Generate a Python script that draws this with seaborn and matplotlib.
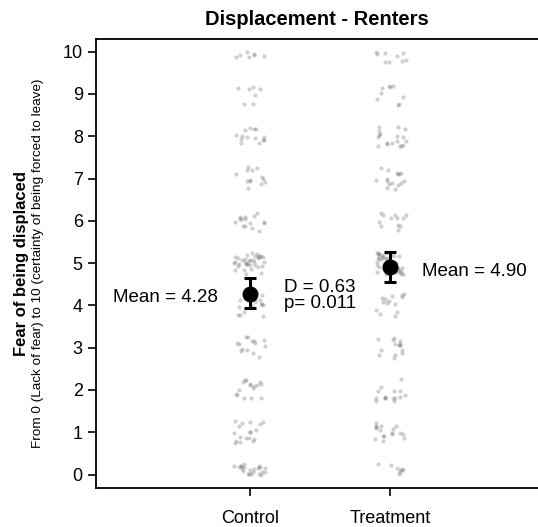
import numpy as np
import pandas as pd
import matplotlib
matplotlib.use("Agg")
import matplotlib.pyplot as plt
import seaborn as sns

# ---- data ----
groups = ["Control", "Treatment"]
scale_values = [0, 1, 2, 3, 4, 5, 6, 7, 8, 9, 10]
control_counts = [22, 18, 16, 14, 15, 35, 15, 13, 14, 7, 7]
treatment_counts = [8, 17, 15, 14, 14, 40, 12, 16, 18, 9, 9]
means = [4.28, 4.90]
ci_low = [3.93, 4.56]
ci_high = [4.64, 5.26]
mean_labels = ["Mean = 4.28", "Mean = 4.90"]
effect_label = "D = 0.63"
p_label = "p= 0.011"
title = "Displacement - Renters"
ylabel_bold = "Fear of being displaced"
ylabel_sub = "From 0 (Lack of fear) to 10 (certainty of being forced to leave)"

# ---- build long table ----
rows = []
for gi, counts in enumerate([control_counts, treatment_counts]):
    for v, c in zip(scale_values, counts):
        rows += [(gi, v)] * c
df = pd.DataFrame(rows, columns=["group", "value"])

# display jitter only
rng = np.random.default_rng(7)
jx = rng.uniform(-0.11, 0.11, len(df))
jy = rng.uniform(-0.27, 0.27, len(df))
jy = np.where(df["value"] == 10, -np.abs(jy), jy)
jy = np.where(df["value"] == 0, np.abs(jy), jy)
df["xj"] = df["group"] + jx
df["yj"] = df["value"] + jy

sns.set_style("ticks")
plt.rcParams["font.family"] = ["Liberation Sans", "DejaVu Sans"]
for k in ["text.color", "axes.labelcolor", "xtick.color", "ytick.color", "axes.edgecolor"]:
    plt.rcParams[k] = "black"

fig = plt.figure(figsize=(5.38, 5.27), dpi=100)
ax = fig.add_axes([96 / 538, 1 - 487.7 / 527, 1 - 96 / 538, (487.7 - 38.5) / 527])

sns.scatterplot(data=df, x="xj", y="yj", ax=ax, color="#666666", alpha=0.3,
                s=9, linewidth=0, legend=False, zorder=2)

ax.errorbar([0, 1], means,
            yerr=[np.array(means) - np.array(ci_low), np.array(ci_high) - np.array(means)],
            fmt="o", color="black", markersize=10.5, elinewidth=2.2,
            capsize=4.5, capthick=2.2, zorder=5)

ax.set_xlim(-1.093, 2.05)
ax.set_ylim(-0.31, 10.31)
ax.set_xticks([0, 1])
ax.set_xticklabels(groups)
ax.set_yticks(scale_values)
ax.tick_params(axis="both", labelsize=13, length=6, width=1.2, color="black",
               labelcolor="black")
ax.tick_params(axis="x", pad=10)
ax.set_xlabel("")
ax.set_ylabel("")
for s in ["left", "bottom", "top"]:
    ax.spines[s].set_linewidth(1.3)
    ax.spines[s].set_color("black")
ax.spines["right"].set_visible(False)

ax.set_title(title, fontsize=14.5, fontweight="bold", pad=10, color="black")

ax.text(-0.225, 4.19, mean_labels[0], ha="right", va="center", fontsize=13.5, color="black")
ax.text(1.225, 4.81, mean_labels[1], ha="left", va="center", fontsize=13.5, color="black")
ax.text(0.244, 4.43, effect_label, ha="left", va="center", fontsize=13.5, color="black")
ax.text(0.244, 4.05, p_label, ha="left", va="center", fontsize=13.5, color="black")

fig.text(22 / 538, 1 - 263 / 527, ylabel_bold, rotation=90, ha="center",
         va="center", fontsize=12, fontweight="bold", color="black")
fig.text(38 / 538, 1 - 263 / 527, ylabel_sub, rotation=90, ha="center",
         va="center", fontsize=9.7, color="black")

fig.savefig("out.png", dpi=100)
